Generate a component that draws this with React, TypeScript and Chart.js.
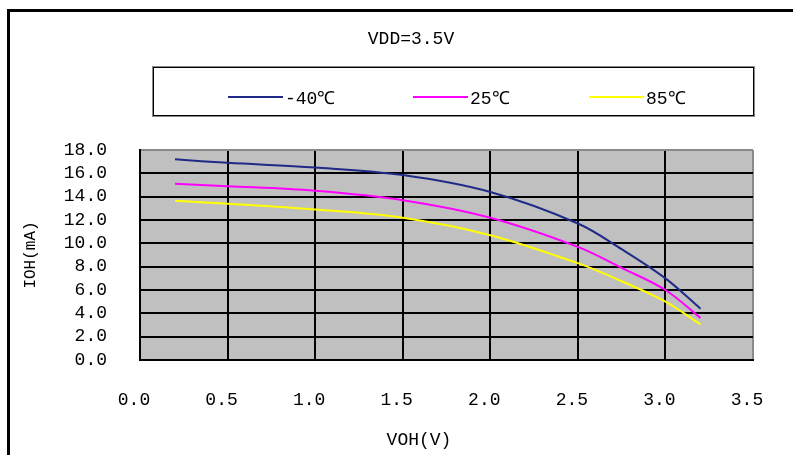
import React, { useEffect, useRef } from "react";
import { Chart, registerables } from "chart.js";

Chart.register(...registerables);

const TITLE = "VDD=3.5V";
const X_TITLE = "VOH(V)";
const Y_TITLE = "IOH(mA)";

const voh = [0.2, 0.5, 1.0, 1.5, 2.0, 2.5, 2.75, 3.0, 3.2];
const iohMinus40 = [17.2, 16.9, 16.5, 15.85, 14.4, 11.7, 9.5, 7.0, 4.4];
const ioh25 = [15.1, 14.9, 14.5, 13.7, 12.2, 9.7, 7.9, 6.0, 3.6];
const ioh85 = [13.65, 13.4, 12.9, 12.2, 10.7, 8.3, 6.75, 5.0, 3.05];

const seriesLabels = ["-40℃", "25℃", "85℃"];
const seriesValues = [iohMinus40, ioh25, ioh85];
const seriesColors = ["#1F2A86", "#FF00FF", "#FFFF00"];

const FONT = "'Liberation Mono', 'DejaVu Sans Mono', monospace";
const LEGEND_X = [228, 413, 589];

const decorPlugin = {
  id: "decor",
  beforeDraw(chart: any) {
    const { ctx, chartArea: a } = chart;
    ctx.save();
    ctx.fillStyle = "#C0C0C0";
    ctx.fillRect(a.left, a.top, a.right - a.left, a.bottom - a.top);
    ctx.restore();
  },
  afterDraw(chart: any) {
    const ctx = chart.ctx;
    ctx.save();
    // outer frame (left + top)
    ctx.fillStyle = "#000";
    ctx.fillRect(7, 9, 3, chart.height);
    ctx.fillRect(7, 9, chart.width, 3);
    // title
    ctx.font = `18px ${FONT}`;
    ctx.textAlign = "center";
    ctx.textBaseline = "middle";
    ctx.fillStyle = "#000";
    ctx.fillText(TITLE, 411, 39);
    // x axis title
    ctx.fillText(X_TITLE, 419, 440);
    // legend box
    ctx.lineWidth = 1;
    ctx.strokeStyle = "#8A8A8A";
    ctx.strokeRect(152.5, 66.5, 602, 50);
    ctx.strokeStyle = "#000";
    ctx.strokeRect(153.5, 67.5, 600, 48);
    // legend items
    chart.data.datasets.forEach((ds: any, i: number) => {
      const x0 = LEGEND_X[i];
      ctx.strokeStyle = ds.borderColor;
      ctx.lineWidth = 2;
      ctx.beginPath();
      ctx.moveTo(x0, 97);
      ctx.lineTo(x0 + 55, 97);
      ctx.stroke();
      ctx.textAlign = "left";
      ctx.fillStyle = "#000";
      ctx.fillText(ds.label, x0 + 57, 99);
    });
    ctx.restore();
  },
};

export default function App() {
  const ref = useRef<HTMLCanvasElement>(null);

  useEffect(() => {
    if (!ref.current) return;
    const chart = new Chart(ref.current, {
      type: "line",
      data: {
        datasets: seriesLabels.map((label, i) => ({
          label,
          data: voh.map((x, j) => ({ x, y: seriesValues[i][j] })),
          borderColor: seriesColors[i],
          backgroundColor: seriesColors[i],
          borderWidth: 2,
          pointRadius: 0,
          fill: false,
          tension: 0.35,
        })),
      },
      options: {
        responsive: false,
        animation: false,
        devicePixelRatio: 1,
        layout: { padding: { top: 150, right: 40, left: 0, bottom: 0 } },
        plugins: {
          legend: { display: false },
          title: { display: false },
          tooltip: { enabled: false },
        },
        scales: {
          x: {
            type: "linear",
            min: 0,
            max: 3.5,
            afterFit(scale: any) {
              scale.height = 95;
            },
            ticks: {
              stepSize: 0.5,
              padding: 2,
              labelOffset: -6,
              maxRotation: 0,
              autoSkip: false,
              color: "#000",
              font: { family: FONT, size: 18 },
              callback: (v: any) => Number(v).toFixed(1),
            },
            grid: {
              drawTicks: true,
              tickLength: 27,
              tickColor: "rgba(0,0,0,0)",
              lineWidth: 2,
              color: (c: any) => (c.tick && c.tick.value >= 3.5 ? "#8A8A8A" : "#000"),
            },
            border: { display: true, color: "#000", width: 2 },
          },
          y: {
            min: 0,
            max: 18,
            afterFit(scale: any) {
              scale.width = 140;
            },
            ticks: {
              stepSize: 2,
              padding: 33,
              autoSkip: false,
              color: "#000",
              font: { family: FONT, size: 18 },
              callback: (v: any) => Number(v).toFixed(1),
            },
            grid: {
              drawTicks: false,
              lineWidth: 2,
              color: (c: any) => (c.tick && c.tick.value >= 18 ? "#8A8A8A" : "#000"),
            },
            border: { display: true, color: "#000", width: 2 },
            title: {
              display: true,
              text: Y_TITLE,
              color: "#000",
              font: { family: FONT, size: 16 },
              padding: { top: 21, bottom: 0 },
            },
          },
        },
      },
      plugins: [decorPlugin],
    });
    return () => chart.destroy();
  }, []);

  return (
    <div style={{ position: "fixed", left: 0, top: 0, width: 793, height: 455, background: "#fff" }}>
      <canvas ref={ref} width={793} height={455} style={{ display: "block" }} />
    </div>
  );
}
